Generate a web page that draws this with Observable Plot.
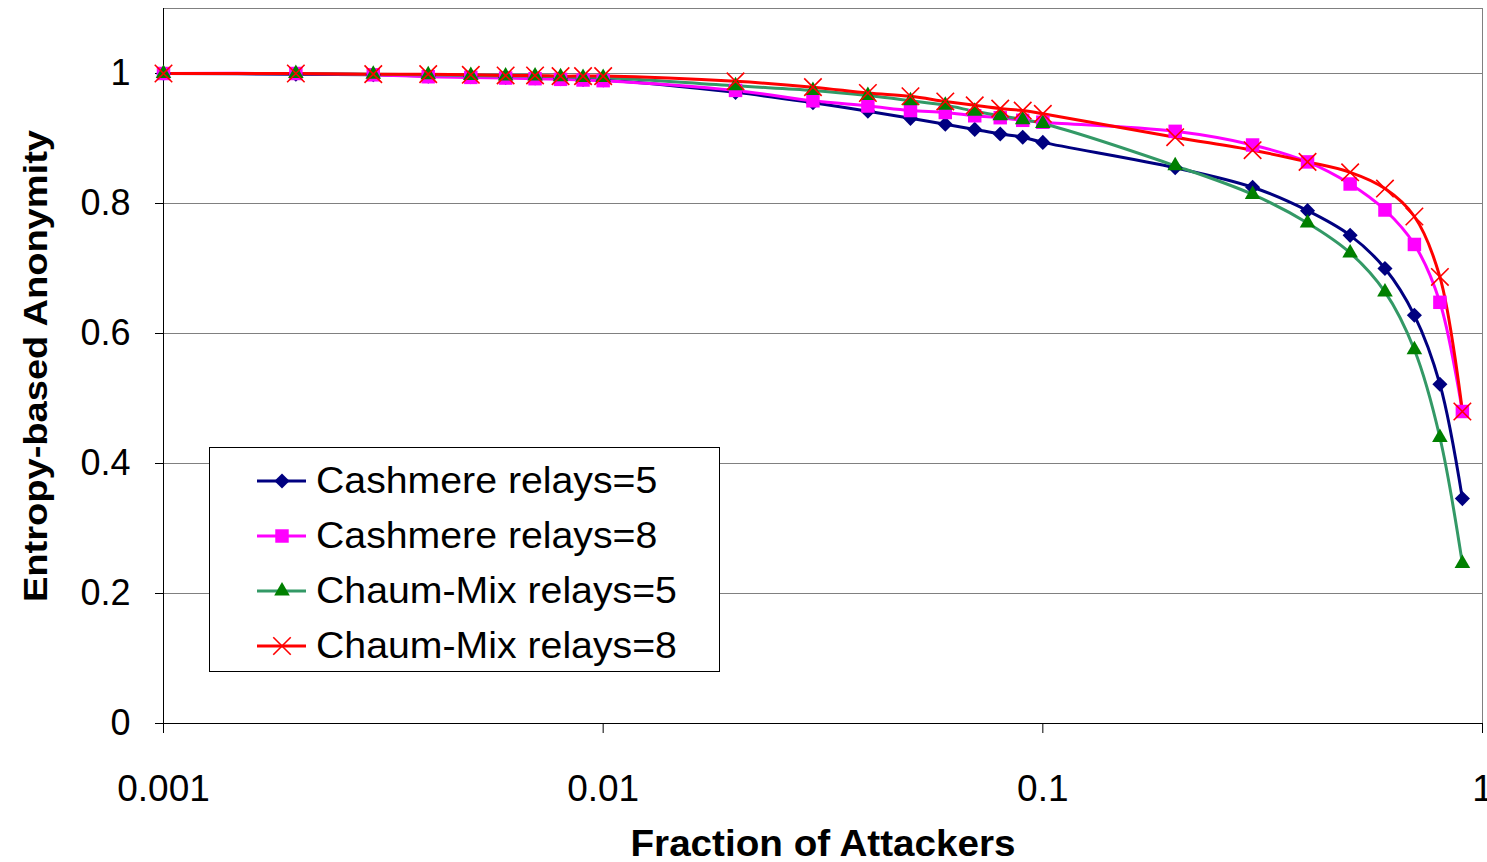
<!DOCTYPE html>
<html><head><meta charset="utf-8">
<script src="https://cdn.jsdelivr.net/npm/d3@7"></script>
<script src="https://cdn.jsdelivr.net/npm/@observablehq/plot@0.6"></script>
<style>
body{margin:0;background:#fff;}
#wrap{position:relative;width:1487px;height:862px;font-family:"Liberation Sans",Arial,sans-serif;}
#legend{position:absolute;left:209px;top:447px;width:511px;height:225px;border:1px solid #000;background:#fff;box-sizing:border-box;}
.row{position:absolute;left:0;height:56px;width:100%;}
.row svg{position:absolute;left:0;top:0;}
.row span{position:absolute;left:106px;top:50%;transform-origin:left center;transform:translateY(-50%) scaleX(1.09);font-size:36px;color:#000;white-space:nowrap;}
</style></head>
<body><div id="wrap"></div>
<script>
const fractions = [0.001,0.002,0.003,0.004,0.005,0.006,0.007,0.008,0.009,0.01,
  0.02,0.03,0.04,0.05,0.06,0.07,0.08,0.09,0.1,
  0.2,0.3,0.4,0.5,0.6,0.7,0.8,0.9];
const cashmere5 = [1.000,0.999,0.998,0.996,0.995,0.994,0.993,0.992,0.991,0.990,
  0.971,0.955,0.942,0.931,0.922,0.914,0.907,0.902,0.894,
  0.855,0.825,0.789,0.751,0.700,0.628,0.522,0.346];
const cashmere8 = [1.000,1.000,0.998,0.995,0.994,0.993,0.992,0.991,0.990,0.989,
  0.974,0.958,0.950,0.943,0.940,0.935,0.932,0.928,0.925,
  0.911,0.890,0.864,0.830,0.790,0.737,0.648,0.480];
const chaum5 = [1.000,1.000,0.999,0.998,0.997,0.996,0.996,0.995,0.994,0.994,
  0.981,0.974,0.966,0.958,0.951,0.942,0.935,0.929,0.923,
  0.858,0.814,0.770,0.724,0.664,0.575,0.440,0.246];
const chaum8 = [1.000,1.000,0.999,0.999,0.998,0.997,0.997,0.996,0.996,0.996,
  0.988,0.979,0.970,0.965,0.957,0.951,0.946,0.943,0.938,
  0.902,0.882,0.864,0.848,0.823,0.780,0.687,0.480];
const seriesNames = ["Cashmere relays=5","Cashmere relays=8","Chaum-Mix relays=5","Chaum-Mix relays=8"];
const xTicks = [0.001,0.01,0.1,1];
const yTicks = [0,0.2,0.4,0.6,0.8,1];
const xTickLabels = ["0.001","0.01","0.1","1"];
const yTickLabels = ["0","0.2","0.4","0.6","0.8","1"];
const xTitle = "Fraction of Attackers";
const yTitle = "Entropy-based Anonymity";

const styles = [
  {values:cashmere5, line:"#000080", fill:"#000080", stroke:"none", symbol:"diamond2", r:6.8, sw:0},
  {values:cashmere8, line:"#FF00FF", fill:"#FF00FF", stroke:"none", symbol:"square", r:7.6, sw:0},
  {values:chaum5, line:"#339966", fill:"#008000", stroke:"none", symbol:"triangle", r:5.8, sw:0},
  {values:chaum8, line:"#FF0000", fill:"none", stroke:"#FF0000", symbol:"times", r:8, sw:1.6}
];
styles.forEach((s,i)=>{ s.name = seriesNames[i]; s.data = fractions.map((x,j)=>({x, y:s.values[j], series:s.name})); });

const marks = [
  Plot.frame({stroke:"#808080"}),
  Plot.ruleY(yTicks.filter(d=>d>0), {stroke:"#808080", strokeWidth:1}),
  Plot.ruleX([xTicks[0]], {stroke:"#000"}),
  Plot.ruleY([0], {stroke:"#000"}),
  Plot.axisX({ticks:xTicks, tickFormat:(d)=>xTickLabels[xTicks.indexOf(d)], tickSize:10, tickPadding:41, fontSize:37, label:null, stroke:"#000"}),
  Plot.axisY({ticks:yTicks, tickFormat:(d)=>yTickLabels[yTicks.indexOf(d)], tickSize:8, tickPadding:25, fontSize:36, label:null, stroke:"#000"}),
  Plot.text([xTitle], {frameAnchor:"bottom", lineAnchor:"middle", textAnchor:"middle", dy:121, fontSize:36, fontWeight:"bold", text:d=>d}),
  Plot.text([yTitle], {frameAnchor:"left", lineAnchor:"middle", textAnchor:"middle", dx:-127, rotate:-90, fontSize:34, fontWeight:"bold", text:d=>d})
];
for (const s of styles) {
  marks.push(Plot.line(s.data, {x:"x", y:"y", stroke:s.line, strokeWidth:3, curve:"catmull-rom"}));
}
for (const s of styles) {
  marks.push(Plot.dot(s.data, {x:"x", y:"y", symbol:()=>s.symbol, fill:s.fill, stroke:s.stroke, strokeWidth:s.sw, r:s.r}));
}

const chart = Plot.plot({
  width:1487, height:862,
  marginLeft:163, marginRight:5, marginTop:8, marginBottom:139,
  style:{fontFamily:"'Liberation Sans', Arial, sans-serif", background:"#fff", color:"#000", overflow:"visible"},
  x:{type:"log", domain:[0.001,1]},
  y:{domain:[0,1.1]},
  symbol:{type:"identity"},
  marks
});
// stretch axis titles to match the reference's wider lettering
d3.select(chart).selectAll("text").each(function(){
  const t = this.textContent;
  if (t === xTitle) d3.select(this).attr("textLength", 385).attr("lengthAdjust","spacingAndGlyphs");
  if (t === yTitle) d3.select(this).attr("textLength", 472).attr("lengthAdjust","spacingAndGlyphs");
});
const wrap = document.getElementById("wrap");
wrap.appendChild(chart);

// legend
const legend = document.createElement("div");
legend.id = "legend";
const symMap = {diamond2:d3.symbolDiamond2, square:d3.symbolSquare, triangle:d3.symbolTriangle, times:d3.symbolTimes};
styles.forEach((s,i)=>{
  const row = document.createElement("div");
  row.className = "row";
  row.style.top = (5 + i*55) + "px";
  const svg = d3.create("svg").attr("width",110).attr("height",56);
  svg.append("line").attr("x1",47).attr("x2",96).attr("y1",28).attr("y2",28).attr("stroke",s.line).attr("stroke-width",3);
  svg.append("path").attr("transform","translate(72,28)")
    .attr("d", d3.symbol(symMap[s.symbol], Math.PI*s.r*s.r)())
    .attr("fill", s.fill).attr("stroke", s.stroke).attr("stroke-width", s.sw);
  row.appendChild(svg.node());
  const span = document.createElement("span");
  span.textContent = s.name;
  row.appendChild(span);
  legend.appendChild(row);
});
wrap.appendChild(legend);
</script></body></html>
